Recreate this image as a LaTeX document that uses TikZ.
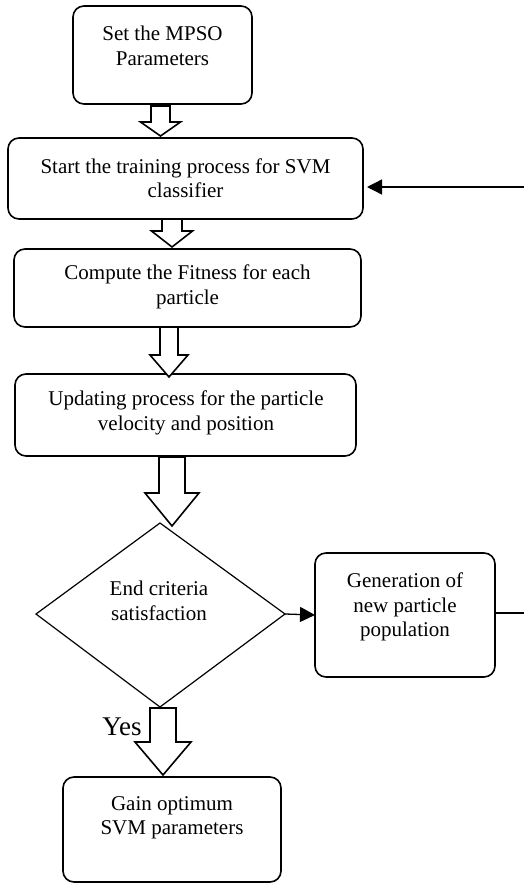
\documentclass[tikz,border=0pt]{standalone}
\usepackage{fontspec}
\setmainfont{Liberation Serif}
\usetikzlibrary{arrows.meta}
\tikzset{
  box/.style={draw, line width=1.6pt, rounded corners=11pt, inner sep=0pt},
  txt/.style={align=center, inner sep=0pt, font=\fontsize{21}{24.5}\selectfont},
  dia/.style={draw, line width=1.2pt},
  blk/.style={draw, line width=1.6pt, fill=white, line join=miter},
  conn/.style={line width=1.3pt, -{Triangle[length=15pt,width=15pt]}},
  plain/.style={line width=1.3pt}
}
\newcommand\blkarrow[6]{%
  \draw[blk] (#1-#3,#2) -- (#1+#3,#2) -- (#1+#3,#4) -- (#1+#5,#4) -- (#1,#6)
    -- (#1-#5,#4) -- (#1-#3,#4) -- cycle;}
\begin{document}
\begin{tikzpicture}[x=1pt,y=-1pt]
\useasboundingbox (0,0) rectangle (524,883);
% boxes
\draw[box] (73,6) rectangle (252,104);
\node[txt] (t1) at (162.5,46) {Set the MPSO\\Parameters};
\draw[box] (8,138) rectangle (363,219);
\coordinate (b2e) at (363,187);
\node[txt] (t2) at (185.5,178) {Start the training process for SVM\\classifier};
\draw[box] (14,249) rectangle (361,327);
\node[txt] (t3) at (187.5,287) {Compute the Fitness for each\\particle};
\draw[box] (15,374) rectangle (356,456);
\node[txt] (t4) at (186,413) {Updating process for the particle\\velocity and position};
% diamond
\coordinate (dt) at (160,523);
\coordinate (dl) at (36,614);
\coordinate (dr) at (285,614);
\coordinate (db) at (160,707);
\draw[dia] (dt) -- (dr) -- (db) -- (dl) -- cycle;
\node[txt] (t5) at (159,601) {End criteria\\satisfaction};
% generation box
\draw[box] (315,553) rectangle (495,677);
\coordinate (b5w) at (315,615);
\coordinate (b5e) at (495,613);
\node[txt] (t6) at (405,607) {Generation of\\new particle\\population};
% final box
\draw[box] (63,777) rectangle (281,882);
\node[txt] (t7) at (172,818) {Gain optimum\\SVM parameters};
% block arrows
\blkarrow{160.5}{106}{9.5}{122}{20}{136}
\blkarrow{172}{219}{10}{231}{20.5}{247}
\blkarrow{169}{327}{9}{355}{19}{377}
\blkarrow{172}{457}{13}{493}{27}{526}
\blkarrow{163}{708}{13}{742}{28}{775}
\node[font=\fontsize{27}{30}\selectfont, anchor=base, inner sep=0pt] (yes) at (122,735) {Yes};
% connectors
\draw[conn] (dr) -- (b5w);
\coordinate (re1) at (524,613);
\coordinate (re2) at (524,187);
\draw[plain] (b5e) -- (re1);
\draw[conn, shorten >=4pt] (re2) -- (b2e);
\end{tikzpicture}
\end{document}
